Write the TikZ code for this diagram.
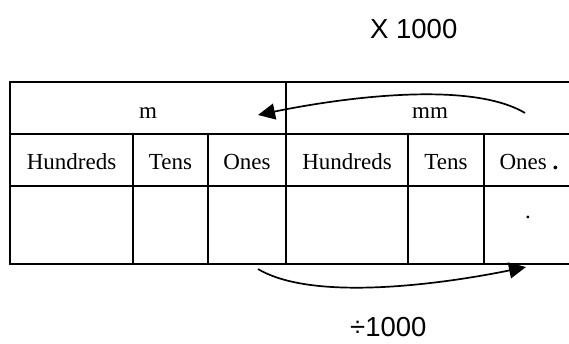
\documentclass[tikz,border=0pt]{standalone}
\usepackage{fontspec}
\setmainfont{Liberation Serif}
\newfontfamily\labelfont{Liberation Sans}
\usetikzlibrary{arrows.meta}
\begin{document}
\begin{tikzpicture}[x=1pt,y=-1pt,
  grid/.style={line width=1.6pt},
  cell/.style={inner sep=0pt,anchor=base,font=\fontsize{23}{23}\selectfont},
  factor/.style={inner sep=0pt,anchor=base west,font=\labelfont\fontsize{27.5}{27.5}\selectfont},
  shift arrow/.style={line width=1.7pt,-{Triangle[length=17pt,width=16pt]}}]
\useasboundingbox (0,0) rectangle (569,343);

% place-value table (open on the right)
\draw[grid] (569,82) -- (10,82) -- (10,264) -- (569,264);
\draw[grid] (10,134) -- (569,134);
\draw[grid] (10,186) -- (569,186);
\draw[grid] (286,82) -- (286,264);
\foreach \x in {133,208,408,484}
  \draw[grid] (\x,134) -- (\x,264);

% unit headings
\node[cell] (m)  at (148,118) {m};
\node[cell] (mm) at (430,118) {mm};

% place-value headings
\node[cell] (h1) at (71.5,169) {Hundreds};
\node[cell] (t1) at (170.5,169) {Tens};
\node[cell] (o1) at (247,169) {Ones};
\node[cell] (h2) at (347,169) {Hundreds};
\node[cell] (t2) at (446,169) {Tens};
\node[cell] (o2) at (529,169) {Ones \textbf{.}};
\node[cell] (pt) at (528,218) {.};

% factor labels
\node[factor] (times) at (370,38) {X 1000};
\node[factor] (divide) at (350,336) {÷1000};

% conversion arrows
\coordinate (upTail) at (525,113);
\coordinate (upTip)  at (258,115);
\coordinate (loTail) at (258,269);
\coordinate (loTip)  at (526,267);
\draw[shift arrow] (upTail) .. controls (470,80) and (340,98) .. (upTip);
\draw[shift arrow] (loTail) .. controls (313,302) and (443,284) .. (loTip);
\end{tikzpicture}
\end{document}
